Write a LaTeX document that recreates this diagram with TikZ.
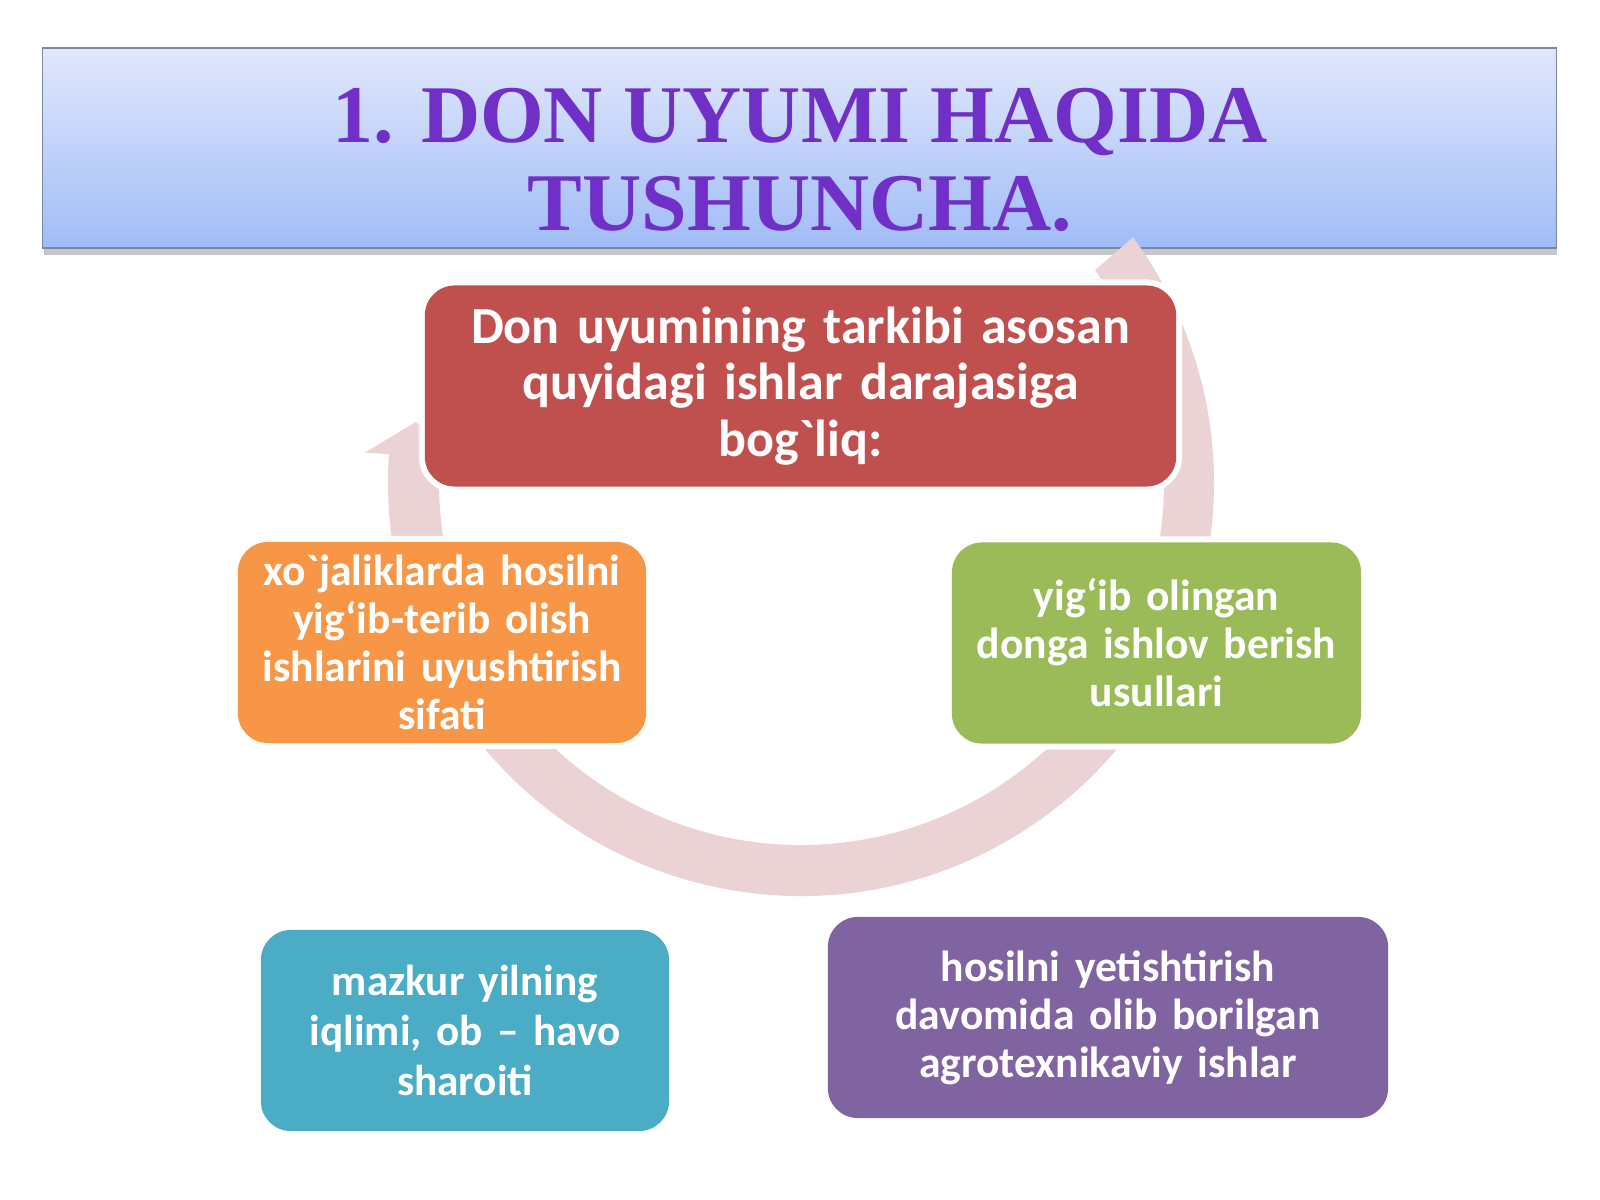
\documentclass[tikz,border=0pt]{standalone}
\usepackage{fontspec}
\usetikzlibrary{calc,shadows}
\newfontfamily\titlefont{Liberation Serif}
\newfontfamily\boxfont[WordSpace=0.8]{Carlito}
\definecolor{ringc}{RGB}{234,210,213}
\definecolor{ttop}{RGB}{226,232,252}
\definecolor{tbot}{RGB}{160,188,247}
\definecolor{tborder}{RGB}{120,135,165}
\definecolor{ttext}{RGB}{112,48,200}
\definecolor{cred}{RGB}{192,80,77}
\definecolor{corange}{RGB}{247,150,70}
\definecolor{cgreen}{RGB}{155,187,89}
\definecolor{cteal}{RGB}{75,172,198}
\definecolor{cpurple}{RGB}{128,100,162}
\tikzset{
  titlebox/.style={draw=tborder, line width=0.015cm, top color=ttop, bottom color=tbot,
    minimum width=15.13cm, minimum height=2cm, inner sep=0pt,
    drop shadow={shadow xshift=0.01cm, shadow yshift=-0.07cm, fill=black, opacity=0.22}},
  titletext/.style={inner sep=0pt, align=center, text=ttext,
    font=\titlefont\bfseries\fontsize{23.3}{25}\selectfont},
  cbox/.style={rounded corners=0.3cm, inner sep=0pt, align=center, text=white,
    minimum height=2.01cm, preaction={draw=white, line width=0.12cm}},
  bigtext/.style={font=\boxfont\bfseries\fontsize{14.8}{16}\selectfont},
  smalltext/.style={font=\boxfont\bfseries\fontsize{12.4}{13.65}\selectfont},
  tealtext/.style={font=\boxfont\bfseries\fontsize{12.3}{14.3}\selectfont},
  ring/.style={fill=ringc}
}
\begin{document}
\begin{tikzpicture}[x=0.01cm, y=-0.01cm]
\useasboundingbox (0,0) rectangle (1600,1200);
\fill[white] (0,0) rectangle (1600,1200);
% title
\node[titlebox] (title) at (799.5,148) {};
\node[titletext] (titletxt) at (800,160) {1. DON UYUMI HAQIDA\\TUSHUNCHA.};
% ring arcs
\coordinate (C) at (801,483);
\fill[ring] (C) ++(150:413) arc[start angle=150, end angle=30, radius=413]
  -- ($(C)+(30:362)$) arc[start angle=30, end angle=150, radius=362] -- cycle;
\fill[ring] (C) ++(15:413) arc[start angle=15, end angle=-36.5, radius=413]
  -- ($(C)+(-35.9:363)$) arc[start angle=-35.9, end angle=15, radius=363] -- cycle;
\fill[ring] (C) ++(170:413) arc[start angle=170, end angle=184, radius=413]
  -- ($(C)+(184:437)$) -- ($(C)+(189:390)$) -- ($(C)+(184:338)$)
  -- ($(C)+(184:362)$) arc[start angle=184, end angle=170, radius=362] -- cycle;
% boxes
\node[cbox, fill=cred, minimum width=7.51cm, text width=7.3cm, bigtext] (main) at (800.5,386)
  {Don uyumining tarkibi asosan\\quyidagi ishlar darajasiga\\bog\char"60 liq:};
\node[cbox, fill=corange, minimum width=4.08cm, text width=3.95cm, smalltext] (orange) at (442,642.5)
  {xo\char"60 jaliklarda hosilni\\yig‘ib-terib olish\\ishlarini uyushtirish\\sifati};
\node[cbox, fill=cgreen, minimum width=4.09cm, text width=3.95cm, smalltext] (green) at (1156.5,643)
  {yig‘ib olingan\\donga ishlov berish\\usullari};
\node[cbox, fill=cteal, minimum width=4.08cm, text width=3.95cm, tealtext] (teal) at (465,1030.5)
  {mazkur yilning\\iqlimi, ob – havo\\sharoiti};
\node[cbox, fill=cpurple, minimum width=5.6cm, text width=5.4cm, smalltext] (purple) at (1108,1017.5)
  {hosilni yetishtirish\\davomida olib borilgan\\agrotexnikaviy ishlar};
\end{tikzpicture}
\end{document}
